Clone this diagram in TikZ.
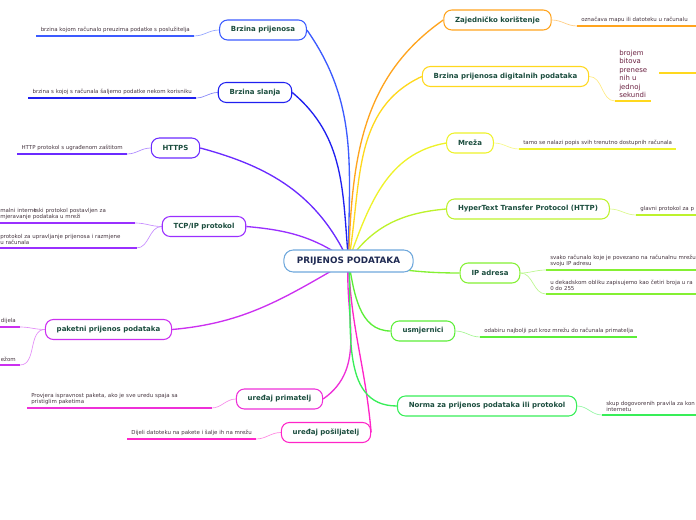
\documentclass[tikz,border=0pt]{standalone}
\usepackage{fontspec}
\setmainfont{DejaVu Sans}
\usetikzlibrary{backgrounds}

\definecolor{topictxt}{HTML}{1B4D3E}
\definecolor{roottxt}{HTML}{1F2A52}
\definecolor{leaftxt}{HTML}{45353F}
\definecolor{bittxt}{HTML}{6A2040}
\definecolor{rootline}{HTML}{6FA8DC}
\definecolor{cBa}{HTML}{3C5BFF}
\definecolor{cBb}{HTML}{2020F0}
\definecolor{cBc}{HTML}{6B2BFF}
\definecolor{cBd}{HTML}{9A30FF}
\definecolor{cBe}{HTML}{CC30F0}
\definecolor{cBf}{HTML}{EE30D8}
\definecolor{cBg}{HTML}{FF25C8}
\definecolor{cRa}{HTML}{FFA41E}
\definecolor{cRb}{HTML}{FFD81E}
\definecolor{cRc}{HTML}{EEF22A}
\definecolor{cRd}{HTML}{BDF22C}
\definecolor{cRe}{HTML}{84F033}
\definecolor{cRf}{HTML}{5CEE38}
\definecolor{cRg}{HTML}{38EE58}

\tikzset{
  topic/.style={draw=#1, fill=white, line width=0.8pt, rounded corners=6pt,
    minimum height=15pt, inner xsep=8.5pt, inner ysep=0pt, text=topictxt,
    font=\fontsize{5.25}{6}\selectfont\bfseries},
  leaf/.style={inner xsep=3pt, inner ysep=2pt, text=leaftxt, align=left,
    font=\fontsize{4.1}{4.9}\selectfont},
  branch/.style={draw=#1, line width=1pt},
  twig/.style={draw=#1!55!white, line width=0.5pt},
  uline/.style={draw=#1, line width=1.5pt},
}

\begin{document}
\begin{tikzpicture}[x=0.75pt, y=-0.75pt]
  \useasboundingbox (0,0) rectangle (696,520);
  \clip (0,0) rectangle (696,520);

  \node[draw=rootline, fill=white, line width=0.8pt, rounded corners=7pt,
    minimum height=16.5pt, inner xsep=9.75pt, inner ysep=0pt, text=roottxt,
    font=\fontsize{6.6}{7}\selectfont\bfseries] (root) at (348.5,261) {PRIJENOS PODATAKA};

  % lijeva strana
  \node[topic=cBa] (brzp) at (263,30) {Brzina prijenosa};
  \node[topic=cBb] (brzs) at (255,92.5) {Brzina slanja};
  \node[topic=cBc] (https) at (175.5,148) {HTTPS};
  \node[topic=cBd] (tcp) at (204,226.5) {TCP/IP protokol};
  \node[topic=cBe] (paket) at (108.5,329.5) {paketni prijenos podataka};
  \node[topic=cBf] (prim) at (279.5,399) {uređaj primatelj};
  \node[topic=cBg] (posi) at (326,432.5) {uređaj pošiljatelj};

  % desna strana
  \node[topic=cRa] (zajed) at (497.5,20) {Zajedničko korištenje};
  \node[topic=cRb] (digit) at (505.5,76.5) {Brzina prijenosa digitalnih podataka};
  \node[topic=cRc] (mreza) at (470,143) {Mreža};
  \node[topic=cRd] (http) at (528,209) {HyperText Transfer Protocol (HTTP)};
  \node[topic=cRe] (ipadr) at (490,273) {IP adresa};
  \node[topic=cRf] (usmj) at (423,331) {usmjernici};
  \node[topic=cRg] (norma) at (487,406) {Norma za prijenos podataka ili protokol};

  % listovi
  \node[leaf, anchor=south east] (brzpA) at (194,36) {brzina kojom računalo preuzima podatke s poslužitelja};
  \node[leaf, anchor=south east] (brzsA) at (196,98) {brzina s kojoj s računala šaljemo podatke nekom korisniku};
  \node[leaf, anchor=south east] (httpsA) at (127,154) {HTTP protokol s ugrađenom zaštitom};
  \node[leaf, anchor=south west, text width=98pt] (tcpA) at (-4,223)
    {malni interne\kern-2pt tski protokol postavljen za\\mjeravanje podataka u mreži};
  \node[leaf, anchor=south west, text width=99pt] (tcpB) at (-4,248)
    {protokol za upravljanje prijenosa i razmjene\\u računala};
  \node[leaf, anchor=south east] (paketA) at (20,327) {dijela};
  \node[leaf, anchor=south east] (paketB) at (20,365) {ežom};
  \node[leaf, anchor=south west, text width=132pt] (primA) at (27,408)
    {Provjera ispravnost paketa, ako je sve uredu spaja sa\\pristiglim paketima};
  \node[leaf, anchor=south east] (posiA) at (256,439) {Dijeli datoteku na pakete i šalje ih na mrežu};

  \node[leaf, anchor=south west] (zajedA) at (577,26) {označava mapu ili datoteku u računalu\hspace{6pt}};
  \node[leaf, anchor=south west, text=bittxt, font=\fontsize{5.2}{6.4}\selectfont] (digitA) at (615,101)
    {brojem\\bitova\\prenese\\nih u\\jednoj\\sekundi};
  \coordinate (digitB1) at (659,73);
  \coordinate (digitB2) at (700,73);
  \node[leaf, anchor=south west] (mrezaA) at (519,149) {tamo se nalazi popis svih trenutno dostupnih računala};
  \node[leaf, anchor=south west] (httpA) at (636,215) {glavni protokol za p};
  \node[leaf, anchor=south west] (ipadrA) at (546,270)
    {svako računalo koje je povezano na računalnu mrežu\\svoju IP adresu};
  \node[leaf, anchor=south west] (ipadrB) at (546,294)
    {u dekadskom obliku zapisujemo kao četiri broja u ra\\0 do 255};
  \node[leaf, anchor=south west] (usmjA) at (480,337) {odabiru najbolji put kroz mrežu do računala primatelja};
  \node[leaf, anchor=south west] (normaA) at (602,415) {skup dogovorenih pravila za kon\\internetu};

  % podcrtavanja
  \draw[uline=cBa] (brzpA.south west) -- (brzpA.south east);
  \draw[uline=cBb] (brzsA.south west) -- (brzsA.south east);
  \draw[uline=cBc] (httpsA.south west) -- (httpsA.south east);
  \draw[uline=cBd] (tcpA.south west) -- (tcpA.south east);
  \draw[uline=cBd] (tcpB.south west) -- (tcpB.south east);
  \draw[uline=cBe] (paketA.south west) ++(-10,0) -- (paketA.south east);
  \draw[uline=cBe] (paketB.south west) ++(-10,0) -- (paketB.south east);
  \draw[uline=cBf] (primA.south west) -- (primA.south east);
  \draw[uline=cBg] (posiA.south west) -- (posiA.south east);
  \draw[uline=cRa] (zajedA.south west) -- (zajedA.south east);
  \draw[uline=cRb] (digitA.south west) -- (digitA.south east);
  \draw[uline=cRb] (digitB1) -- (digitB2);
  \draw[uline=cRc] (mrezaA.south west) -- (mrezaA.south east);
  \draw[uline=cRd] (httpA.south west) -- ++(80,0);
  \draw[uline=cRe] (ipadrA.south west) -- ++(160,0);
  \draw[uline=cRe] (ipadrB.south west) -- ++(160,0);
  \draw[uline=cRf] (usmjA.south west) -- (usmjA.south east);
  \draw[uline=cRg] (normaA.south west) -- ++(110,0);

  \begin{scope}[on background layer]
    % grane
    \draw[branch=cBa] (root.center) to[out=90, in=-55] (brzp.east);
    \draw[branch=cBb] (root.center) to[out=95, in=-40] (brzs.east);
    \draw[branch=cBc] (root.center) to[out=115, in=-15] (https.east);
    \draw[branch=cBd] (root.center) to[out=145, in=-5] (tcp.east);
    \draw[branch=cBe] (root.center) to[out=-150, in=5] (paket.east);
    \draw[branch=cBf] (root.center) to[out=-95, in=35] (prim.east);
    \draw[branch=cBg] (root.center) to[out=-88, in=95] (posi.east);
    \draw[branch=cRa] (root.center) to[out=88, in=215] (zajed.west);
    \draw[branch=cRb] (root.center) to[out=80, in=205] (digit.west);
    \draw[branch=cRc] (root.center) to[out=70, in=190] (mreza.west);
    \draw[branch=cRd] (root.center) to[out=55, in=185] (http.west);
    \draw[branch=cRe] (root.center) to[out=-10, in=180] (ipadr.west);
    \draw[branch=cRf] (root.center) to[out=-80, in=180] (usmj.west);
    \draw[branch=cRg] (root.center) to[out=-85, in=180] (norma.west);
    % grancice
    \draw[twig=cBa] (brzpA.south east) to[out=0, in=180] (brzp.west);
    \draw[twig=cBb] (brzsA.south east) to[out=0, in=180] (brzs.west);
    \draw[twig=cBc] (httpsA.south east) to[out=0, in=180] (https.west);
    \draw[twig=cBd] (tcpA.south east) to[out=0, in=180] (tcp.west);
    \draw[twig=cBd] (tcpB.south east) to[out=0, in=180] (tcp.west);
    \draw[twig=cBe] (paketA.south east) to[out=0, in=180] (paket.west);
    \draw[twig=cBe] (paketB.south east) to[out=0, in=180] (paket.west);
    \draw[twig=cBf] (primA.south east) to[out=0, in=180] (prim.west);
    \draw[twig=cBg] (posiA.south east) to[out=0, in=180] (posi.west);
    \draw[twig=cRa] (zajed.east) to[out=0, in=180] (zajedA.south west);
    \draw[twig=cRb] (digit.east) to[out=0, in=180] (digitA.south west);
    \draw[twig=cRc] (mreza.east) to[out=0, in=180] (mrezaA.south west);
    \draw[twig=cRd] (http.east) to[out=0, in=180] (httpA.south west);
    \draw[twig=cRe] (ipadr.east) to[out=0, in=180] (ipadrA.south west);
    \draw[twig=cRe] (ipadr.east) to[out=0, in=180] (ipadrB.south west);
    \draw[twig=cRf] (usmj.east) to[out=0, in=180] (usmjA.south west);
    \draw[twig=cRg] (norma.east) to[out=0, in=180] (normaA.south west);
  \end{scope}
\end{tikzpicture}
\end{document}
